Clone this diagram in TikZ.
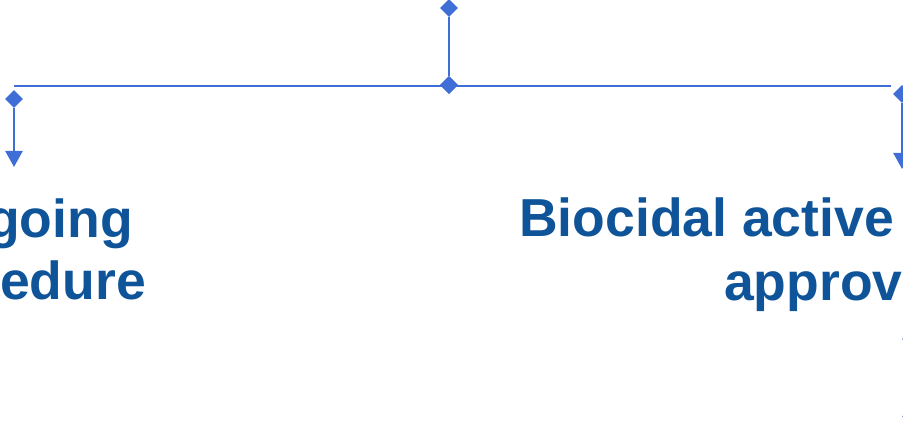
\documentclass[tikz,border=0pt]{standalone}
\usepackage{fontspec}
\setmainfont{Liberation Sans}
\usetikzlibrary{arrows.meta,shapes.geometric}
\definecolor{linkblue}{HTML}{3F6FD6}
\definecolor{titleblue}{HTML}{0F5498}
\tikzset{
  link/.style={draw=linkblue, line width=2.5pt},
  knot/.style={diamond, fill=linkblue, inner sep=0pt, minimum width=18pt, minimum height=18pt},
  drop/.style={link, -{Triangle[width=17pt,length=16pt]}},
  title/.style={text=titleblue, font=\fontsize{53.5}{64}\selectfont\bfseries, inner sep=0pt}
}
\begin{document}
\begin{tikzpicture}[x=1pt,y=-1pt]
\useasboundingbox (0,0) rectangle (903,435);
\clip (0,0) rectangle (903,435);

% trunk and bar
\node[knot] (top) at (449,8) {};
\node[knot] (hub) at (449,85) {};
\coordinate (barL) at (14,86);
\coordinate (barR) at (891,86);
\draw[link] (barL) -- (barR);
\draw[link] (top) -- (hub);
\node[knot] at (hub) {};

% left branch
\node[knot] (lk) at (14,99) {};
\coordinate (lt) at (14,167);
\draw[drop] (lk) -- (lt);

% right branch
\node[knot] (rk) at (902,94) {};
\coordinate (rt) at (902,169);
\draw[drop] (rk) -- (rt);

% lower right branch
\node[knot] (sk) at (911,339) {};
\coordinate (st) at (911,432);
\draw[drop] (sk) -- (st);

% titles
\node[title, anchor=base east] (l1) at (133,238) {going};
\node[title, anchor=base east] (l2) at (146,300) {edure};
\node[title, anchor=base west] (r1) at (519,237) {Biocidal active};
\node[title, anchor=base west] (r2) at (724,301) {approv};
\end{tikzpicture}
\end{document}
